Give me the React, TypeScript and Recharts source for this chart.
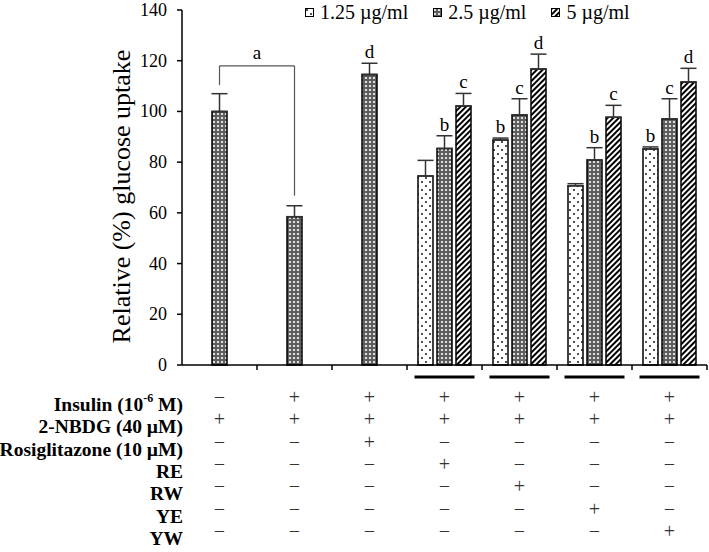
import React from "react";
import { BarChart, Bar, XAxis, YAxis, ErrorBar, LabelList, ReferenceLine } from "recharts";

const serif = '"Liberation Serif", "Times New Roman", serif';

// treatments (one column each)
const categories = ["Control", "Insulin", "Rosiglitazone", "RE", "RW", "YE", "YW"];

// concentration series
const seriesNames = ["1.25 µg/ml", "2.5 µg/ml", "5 µg/ml"];
const low = [null, null, null, 74.5, 88.7, 70.7, 85.2];
const mid = [100, 58.5, 114.6, 85.4, 98.6, 80.8, 97.0];
const high = [null, null, null, 102.1, 116.7, 97.7, 111.6];

// upper error (SD)
const lowErr = [null, null, null, 6.2, 0.8, 0.8, 0.8];
const midErr = [7.0, 4.3, 4.4, 5.0, 6.4, 4.9, 8.0];
const highErr = [null, null, null, 5.0, 5.9, 4.7, 5.4];

// significance letters
const lowLetters = ["", "", "", "", "b", "", "b"];
const midLetters = ["", "", "d", "b", "c", "b", "c"];
const highLetters = ["", "", "", "c", "d", "c", "d"];

// bracket between control and insulin
const bracketTop = 118;
const bracketLeftEnd = 110.4;
const bracketRightEnd = 66.8;
const bracketLetter = "a";

const yTicks = [0, 20, 40, 60, 80, 100, 120, 140];

// treatment table under the x axis
const rowLabels = ["Insulin", "2-NBDG (40 µM)", "Rosiglitazone (10 µM)", "RE", "RW", "YE", "YW"];
const rowSigns = [
  ["−", "+", "+", "+", "+", "+", "+"],
  ["+", "+", "+", "+", "+", "+", "+"],
  ["−", "−", "+", "−", "−", "−", "−"],
  ["−", "−", "−", "+", "−", "−", "−"],
  ["−", "−", "−", "−", "+", "−", "−"],
  ["−", "−", "−", "−", "−", "+", "−"],
  ["−", "−", "−", "−", "−", "−", "+"],
];
const underlined = [false, false, false, true, true, true, true];

const pack = (letter: string, e: number | null, v: number | null) => (letter && v != null ? `${letter}|${e ?? 0}|${v}` : "");

const data = categories.map((name, i) => ({
  name,
  low: low[i],
  mid: mid[i],
  high: high[i],
  lowE: lowErr[i] == null ? null : [0, lowErr[i]],
  midE: midErr[i] == null ? null : [0, midErr[i]],
  highE: highErr[i] == null ? null : [0, highErr[i]],
  lowL: pack(lowLetters[i], lowErr[i], low[i]),
  midL: pack(midLetters[i], midErr[i], mid[i]),
  highL: pack(highLetters[i], highErr[i], high[i]),
}));

const fills = ["url(#pDots)", "url(#pCross)", "url(#pDiag)"];

const renderLetter = (props: any) => {
  if (!props.value) return null;
  const vb = props.viewBox && props.viewBox.width != null ? props.viewBox : props;
  const { x, y, width, height } = vb;
  const [letter, e, v] = String(props.value).split("|");
  const top = y - (Number(e) * height) / Number(v);
  return (
    <text x={x + width / 2} y={top - 5} textAnchor="middle" fontSize={19} fontFamily={serif} fill="#000">
      {letter}
    </text>
  );
};

const TableTick = (props: any) => {
  const { x, y, payload, index } = props;
  const half = payload.offset ?? 37.5;
  const i = index ?? payload.index;
  return (
    <g>
      <line x1={x + half} x2={x + half} y1={y} y2={y + 5} stroke="#000" strokeWidth={1.5} />
      {underlined[i] && <line x1={x - 30} x2={x + 30} y1={y + 12} y2={y + 12} stroke="#000" strokeWidth={3} />}
      {rowSigns.map((row, r) => (
        <text key={r} x={x} y={y + 39 + r * 22.3} textAnchor="middle" fontSize={20} fontFamily={serif} fill="#333">
          {row[i]}
        </text>
      ))}
      {i === 0 &&
        rowLabels.map((lab, r) => (
          <text
            key={"l" + r}
            x={x - half + 1}
            y={y + 46 + r * 22.3}
            textAnchor="end"
            fontSize={19.5}
            fontWeight="bold"
            fontFamily={serif}
            fill="#000"
          >
            {r === 0 ? (
              <>
                <tspan>{lab} (10</tspan>
                <tspan dy={-9} fontSize={12}>-6</tspan>
                <tspan dy={9}> M)</tspan>
              </>
            ) : (
              lab
            )}
          </text>
        ))}
    </g>
  );
};

const YTick = (props: any) => {
  const { x, y, payload } = props;
  return (
    <text x={x} y={y} dy={6} textAnchor="end" fontSize={18} fontFamily={serif} fill="#000">
      {payload.value}
    </text>
  );
};

const YLabel = (props: any) => {
  const vb = props.viewBox;
  const cx = vb.x + 121;
  const cy = vb.y + vb.height / 2 + 9;
  return (
    <text x={cx} y={cy} transform={`rotate(-90, ${cx}, ${cy})`} textAnchor="middle" dominantBaseline="central" fontSize={26} fontFamily={serif} fill="#000">
      Relative (%) glucose uptake
    </text>
  );
};

function LegendBox() {
  return (
    <div style={{ position: "absolute", left: 305, top: 1, display: "flex", gap: 25, fontFamily: serif, fontSize: 20, color: "#000" }}>
      {seriesNames.map((n, i) => (
        <div key={n} style={{ display: "flex", alignItems: "center", gap: 6 }}>
          <svg width={9} height={9}>
            <rect x={0.5} y={0.5} width={8} height={8} fill={fills[i]} stroke="#000" strokeWidth={1} />
          </svg>
          <span>{n}</span>
        </div>
      ))}
    </div>
  );
}

export default function App() {
  const seriesKeys = [
    { key: "low", err: "lowE", letter: "lowL" },
    { key: "mid", err: "midE", letter: "midL" },
    { key: "high", err: "highE", letter: "highL" },
  ];
  return (
    <div style={{ position: "absolute", left: 0, top: 0, width: 709, height: 552, background: "#fff" }}>
      <BarChart width={709} height={552} data={data} margin={{ top: 10, right: 2, left: 0, bottom: 0 }} barSize={15} barGap={4}>
        <defs>
          <pattern id="pDots" width="8" height="8" patternUnits="userSpaceOnUse">
            <rect width="8" height="8" fill="#fff" />
            <circle cx="2" cy="2" r="0.9" fill="#000" />
            <circle cx="6" cy="6" r="0.9" fill="#000" />
          </pattern>
          <pattern id="pCross" width="4" height="4" patternUnits="userSpaceOnUse">
            <rect width="4" height="4" fill="#5e5e5e" />
            <circle cx="2" cy="2" r="1.1" fill="#fff" />
          </pattern>
          <pattern id="pDiag" width="4" height="4" patternUnits="userSpaceOnUse" patternTransform="rotate(45)">
            <rect width="4" height="4" fill="#fff" />
            <rect width="2" height="4" fill="#000" />
          </pattern>
        </defs>
        <XAxis
          dataKey="name"
          height={187}
          interval={0}
          axisLine={{ stroke: "#000", strokeWidth: 1.5 }}
          tickLine={false}
          tickSize={0}
          tickMargin={0}
          tick={<TableTick />}
        />
        <YAxis
          width={182}
          domain={[0, 140]}
          ticks={yTicks}
          axisLine={{ stroke: "#000", strokeWidth: 1.5 }}
          tickLine={{ stroke: "#000", strokeWidth: 1.5 }}
          tickSize={5}
          tickMargin={10}
          tick={<YTick />}
          label={<YLabel />}
        />
        <ReferenceLine segment={[{ x: categories[0], y: bracketLeftEnd }, { x: categories[0], y: bracketTop }]} stroke="#555" strokeWidth={1.2} />
        <ReferenceLine
          segment={[{ x: categories[0], y: bracketTop }, { x: categories[1], y: bracketTop }]}
          stroke="#555"
          strokeWidth={1.2}
          label={{ value: bracketLetter, position: "top", fontSize: 19, fontFamily: serif, fill: "#000", offset: 7 }}
        />
        <ReferenceLine segment={[{ x: categories[1], y: bracketTop }, { x: categories[1], y: bracketRightEnd }]} stroke="#555" strokeWidth={1.2} />
        {seriesKeys.map((s, i) => (
          <Bar key={s.key} dataKey={s.key} name={seriesNames[i]} fill={fills[i]} stroke="#000" strokeWidth={1.5} isAnimationActive={false}>
            <ErrorBar dataKey={s.err} width={8} stroke="#333" strokeWidth={1.5} direction="y" isAnimationActive={false} />
            <LabelList dataKey={s.letter} content={renderLetter} />
          </Bar>
        ))}
      </BarChart>
      <LegendBox />
    </div>
  );
}
